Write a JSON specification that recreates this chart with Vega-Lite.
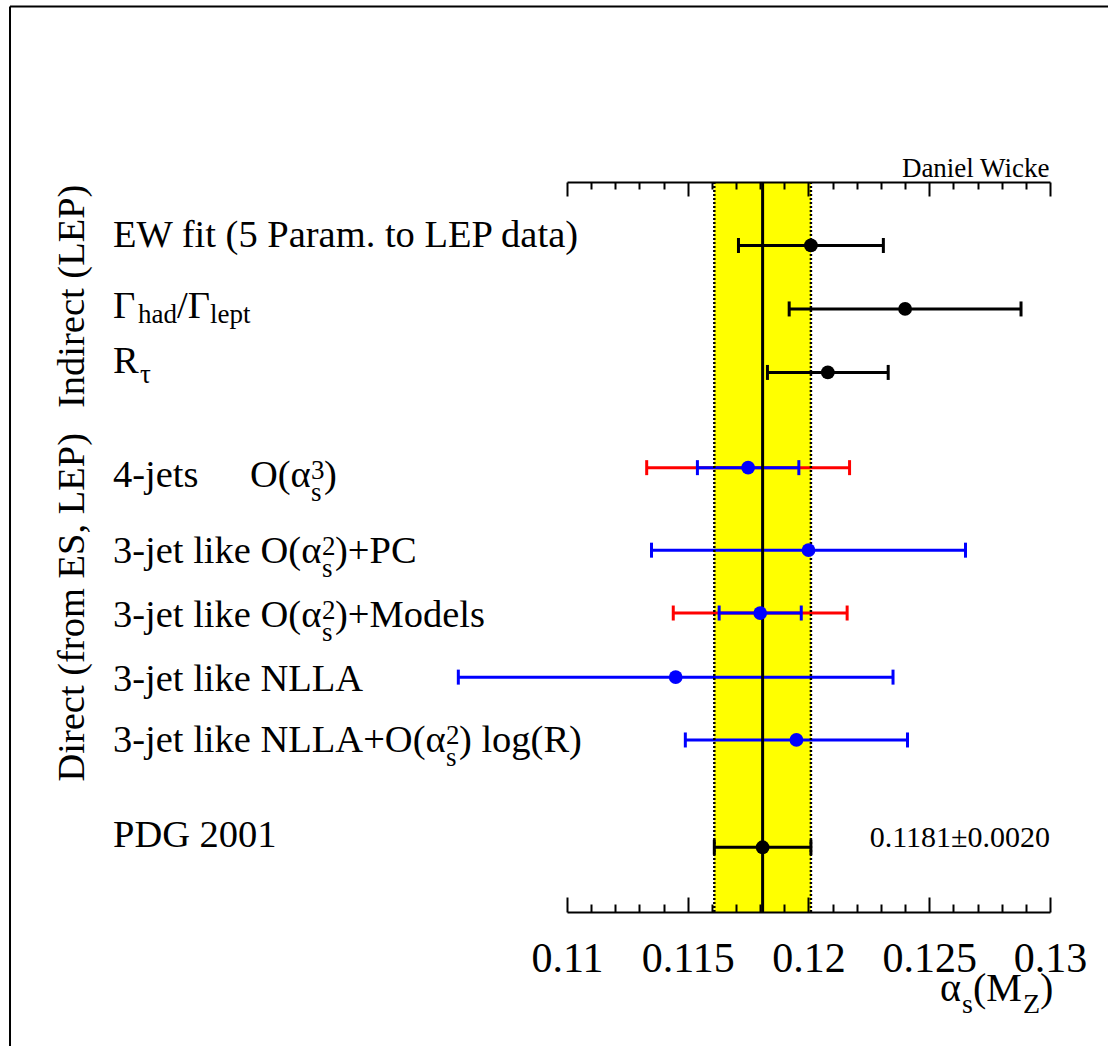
{
  "$schema": "https://vega.github.io/schema/vega-lite/v6.json",
  "width": 483,
  "height": 730,
  "autosize": {"type": "none"},
  "padding": {"left": 567, "top": 182, "right": 58, "bottom": 134},
  "background": "white",
  "config": {"view": {"stroke": null}, "font": "Liberation Serif"},
  "datasets": {
    "meas": [
      {"m": "EW fit (5 Param. to LEP data)", "g": "Indirect", "y": 1.0, "val": 0.1201, "lo": 0.1171, "hi": 0.1231},
      {"m": "Γhad/Γlept", "g": "Indirect", "y": 2.0, "val": 0.1240, "lo": 0.1192, "hi": 0.1288},
      {"m": "Rτ", "g": "Indirect", "y": 3.0, "val": 0.1208, "lo": 0.1183, "hi": 0.1233},
      {"m": "4-jets O(αs3)", "g": "Direct", "y": 4.5, "val": 0.1175, "lo": 0.1154, "hi": 0.1196, "lo2": 0.1133, "hi2": 0.1217},
      {"m": "3-jet like O(αs2)+PC", "g": "Direct", "y": 5.8, "val": 0.1200, "lo": 0.1135, "hi": 0.1265},
      {"m": "3-jet like O(αs2)+Models", "g": "Direct", "y": 6.79, "val": 0.1180, "lo": 0.1163, "hi": 0.1197, "lo2": 0.1144, "hi2": 0.1216},
      {"m": "3-jet like NLLA", "g": "Direct", "y": 7.8, "val": 0.1145, "lo": 0.1055, "hi": 0.1235},
      {"m": "3-jet like NLLA+O(αs2) log(R)", "g": "Direct", "y": 8.79, "val": 0.1195, "lo": 0.1149, "hi": 0.1241},
      {"m": "PDG 2001", "g": "PDG", "y": 10.48, "val": 0.1181, "lo": 0.1161, "hi": 0.1201, "note": "0.1181±0.0020"}
    ],
    "lab": [
      {"t": "EW fit (5 Param. to LEP data)", "ly": 1.02, "p": "a"},
      {"t": "Γ", "ly": 2.14, "p": "a"},
      {"t": "R", "ly": 3.01, "p": "a"},
      {"t": "4-jets", "ly": 4.8, "p": "a"},
      {"t": "3-jet like O(α", "ly": 6.0, "p": "a"},
      {"t": "3-jet like O(α", "ly": 7.01, "p": "a"},
      {"t": "3-jet like NLLA", "ly": 8.02, "p": "a"},
      {"t": "3-jet like NLLA+O(α", "ly": 8.98, "p": "a"},
      {"t": "PDG 2001", "ly": 10.48, "p": "a"},
      {"t": "had", "ly": 2.14, "p": "r2s1"},
      {"t": "/Γ", "ly": 2.14, "p": "r2m"},
      {"t": "lept", "ly": 2.14, "p": "r2s2"},
      {"t": "τ", "ly": 3.01, "p": "r3s"},
      {"t": "O(α", "ly": 4.8, "p": "r4m"},
      {"t": "3", "ly": 4.8, "p": "r4sup"},
      {"t": "s", "ly": 4.8, "p": "r4sub"},
      {"t": ")", "ly": 4.8, "p": "r4e"},
      {"t": "2", "ly": 6.0, "p": "r56sup"},
      {"t": "s", "ly": 6.0, "p": "r56sub"},
      {"t": ")+PC", "ly": 6.0, "p": "r56e"},
      {"t": "2", "ly": 7.01, "p": "r56sup"},
      {"t": "s", "ly": 7.01, "p": "r56sub"},
      {"t": ")+Models", "ly": 7.01, "p": "r56e"},
      {"t": "2", "ly": 8.98, "p": "r8sup"},
      {"t": "s", "ly": 8.98, "p": "r8sub"},
      {"t": ") log(R)", "ly": 8.98, "p": "r8e"}
    ],
    "grp": [
      {"t": "Indirect (LEP)", "gy": 1.8},
      {"t": "Direct (from ES, LEP)", "gy": 6.7}
    ],
    "ttl": [
      {"t": "α", "p": "m1"},
      {"t": "s", "p": "s1"},
      {"t": "(M", "p": "m2"},
      {"t": "Z", "p": "s2"},
      {"t": ")", "p": "m3"}
    ],
    "one": [{"k": 1}]
  },
  "resolve": {"axis": {"x": "independent"}},
  "layer": [
    {
      "data": {"name": "meas"},
      "transform": [{"filter": "datum.g == 'PDG'"}],
      "mark": {"type": "rect", "color": "#ffff00"},
      "encoding": {
        "x": {"field": "lo", "type": "quantitative",
          "scale": {"domain": [0.11, 0.13], "nice": false, "zero": false},
          "axis": {"orient": "bottom", "values": [0.11, 0.115, 0.12, 0.125, 0.13], "format": "~g",
            "tickSize": -15, "tickWidth": 2, "tickColor": "black", "domainWidth": 2, "domainColor": "black",
            "grid": false, "labelFont": "Liberation Serif", "labelFontSize": 42, "labelColor": "black",
            "labelPadding": 74, "labelBaseline": "alphabetic", "labelFlush": false, "labelOverlap": false,
            "title": null, "zindex": 1}},
        "x2": {"field": "hi"}
      }
    },
    {
      "data": {"name": "meas"},
      "transform": [{"filter": "isValid(datum.lo2)"}],
      "mark": {"type": "rule", "color": "#ff0000", "strokeWidth": 3},
      "encoding": {
        "x": {"field": "lo2", "type": "quantitative", "axis": null},
        "x2": {"field": "hi2"},
        "y": {"field": "y", "type": "quantitative", "scale": {"domain": [0, 11.5], "reverse": true, "nice": false, "zero": false}, "axis": null}
      }
    },
    {
      "data": {"name": "meas"},
      "transform": [{"filter": "isValid(datum.lo2)"}, {"fold": ["lo2", "hi2"], "as": ["e", "xv"]}],
      "mark": {"type": "tick", "orient": "vertical", "color": "#ff0000", "thickness": 3, "size": 15, "opacity": 1},
      "encoding": {
        "x": {"field": "xv", "type": "quantitative", "axis": null},
        "y": {"field": "y", "type": "quantitative", "axis": null}
      }
    },
    {
      "data": {"name": "meas"},
      "mark": {"type": "rule", "strokeWidth": 3},
      "encoding": {
        "x": {"field": "lo", "type": "quantitative", "axis": null},
        "x2": {"field": "hi"},
        "y": {"field": "y", "type": "quantitative", "axis": null},
        "color": {"field": "g", "type": "nominal", "scale": {"domain": ["Indirect", "Direct", "PDG"], "range": ["#000000", "#0000ff", "#000000"]}, "legend": null}
      }
    },
    {
      "data": {"name": "meas"},
      "transform": [{"fold": ["lo", "hi"], "as": ["e", "xv"]}],
      "mark": {"type": "tick", "orient": "vertical", "thickness": 3, "size": 15, "opacity": 1},
      "encoding": {
        "x": {"field": "xv", "type": "quantitative", "axis": null},
        "y": {"field": "y", "type": "quantitative", "axis": null},
        "color": {"field": "g", "type": "nominal", "legend": null}
      }
    },
    {
      "data": {"name": "meas"},
      "transform": [{"filter": "datum.g == 'PDG'"}],
      "mark": {"type": "rule", "color": "black", "strokeWidth": 2.5, "strokeDash": [2, 2]},
      "encoding": {
        "x": {"field": "lo", "type": "quantitative",
          "axis": {"orient": "bottom", "values": [0.111, 0.112, 0.113, 0.114, 0.116, 0.117, 0.118, 0.119, 0.121, 0.122, 0.123, 0.124, 0.126, 0.127, 0.128, 0.129],
            "tickSize": -8, "tickWidth": 2, "tickColor": "black", "domain": false, "labels": false, "grid": false, "title": null, "zindex": 1}}
      }
    },
    {
      "data": {"name": "meas"},
      "transform": [{"filter": "datum.g == 'PDG'"}],
      "mark": {"type": "rule", "color": "black", "strokeWidth": 2.5, "strokeDash": [2, 2]},
      "encoding": {
        "x": {"field": "hi", "type": "quantitative",
          "axis": {"orient": "top", "values": [0.11, 0.115, 0.12, 0.125, 0.13],
            "tickSize": -14, "tickWidth": 2, "tickColor": "black", "domainWidth": 2, "domainColor": "black",
            "labels": false, "grid": false, "zindex": 1,
            "title": "Daniel Wicke", "titleX": 482, "titleY": -6, "titleAlign": "right", "titleBaseline": "alphabetic",
            "titleFont": "Liberation Serif", "titleFontSize": 27, "titleFontWeight": "normal", "titleColor": "black", "titleAngle": 0}}
      }
    },
    {
      "data": {"name": "meas"},
      "transform": [{"filter": "datum.g == 'PDG'"}],
      "mark": {"type": "rule", "color": "black", "strokeWidth": 3},
      "encoding": {
        "x": {"field": "val", "type": "quantitative",
          "axis": {"orient": "top", "values": [0.111, 0.112, 0.113, 0.114, 0.116, 0.117, 0.118, 0.119, 0.121, 0.122, 0.123, 0.124, 0.126, 0.127, 0.128, 0.129],
            "tickSize": -7, "tickWidth": 2, "tickColor": "black", "domain": false, "labels": false, "grid": false, "title": null, "zindex": 1}}
      }
    },
    {
      "data": {"name": "meas"},
      "mark": {"type": "circle", "size": 190, "opacity": 1},
      "encoding": {
        "x": {"field": "val", "type": "quantitative", "axis": null},
        "y": {"field": "y", "type": "quantitative", "axis": null},
        "color": {"field": "g", "type": "nominal", "legend": null}
      }
    },
    {
      "data": {"name": "meas"},
      "transform": [{"filter": "datum.g == 'PDG'"}],
      "mark": {"type": "text", "align": "right", "baseline": "alphabetic", "fontSize": 30, "color": "black"},
      "encoding": {
        "x": {"datum": 0.13, "axis": null},
        "y": {"field": "y", "type": "quantitative", "axis": null},
        "text": {"field": "note"}
      }
    },
    {
      "data": {"name": "lab"},
      "transform": [{"filter": "datum.p == 'a'"}],
      "mark": {"type": "text", "align": "left", "baseline": "alphabetic", "fontSize": 38.5, "color": "black"},
      "encoding": {"x": {"datum": 0.0912, "axis": null}, "y": {"field": "ly", "type": "quantitative", "axis": null}, "text": {"field": "t"}}
    },
    {
      "data": {"name": "lab"},
      "transform": [{"filter": "datum.p == 'r2s1'"}],
      "mark": {"type": "text", "align": "left", "baseline": "alphabetic", "fontSize": 27, "dx": 25, "dy": 5, "color": "black"},
      "encoding": {"x": {"datum": 0.0912, "axis": null}, "y": {"field": "ly", "type": "quantitative", "axis": null}, "text": {"field": "t"}}
    },
    {
      "data": {"name": "lab"},
      "transform": [{"filter": "datum.p == 'r2m'"}],
      "mark": {"type": "text", "align": "left", "baseline": "alphabetic", "fontSize": 38.5, "dx": 64, "color": "black"},
      "encoding": {"x": {"datum": 0.0912, "axis": null}, "y": {"field": "ly", "type": "quantitative", "axis": null}, "text": {"field": "t"}}
    },
    {
      "data": {"name": "lab"},
      "transform": [{"filter": "datum.p == 'r2s2'"}],
      "mark": {"type": "text", "align": "left", "baseline": "alphabetic", "fontSize": 27, "dx": 97, "dy": 5, "color": "black"},
      "encoding": {"x": {"datum": 0.0912, "axis": null}, "y": {"field": "ly", "type": "quantitative", "axis": null}, "text": {"field": "t"}}
    },
    {
      "data": {"name": "lab"},
      "transform": [{"filter": "datum.p == 'r3s'"}],
      "mark": {"type": "text", "align": "left", "baseline": "alphabetic", "fontSize": 27, "dx": 27, "dy": 10, "color": "black"},
      "encoding": {"x": {"datum": 0.0912, "axis": null}, "y": {"field": "ly", "type": "quantitative", "axis": null}, "text": {"field": "t"}}
    },
    {
      "data": {"name": "lab"},
      "transform": [{"filter": "datum.p == 'r4m'"}],
      "mark": {"type": "text", "align": "left", "baseline": "alphabetic", "fontSize": 38.5, "dx": 137, "color": "black"},
      "encoding": {"x": {"datum": 0.0912, "axis": null}, "y": {"field": "ly", "type": "quantitative", "axis": null}, "text": {"field": "t"}}
    },
    {
      "data": {"name": "lab"},
      "transform": [{"filter": "datum.p == 'r4sup'"}],
      "mark": {"type": "text", "align": "left", "baseline": "alphabetic", "fontSize": 27, "dx": 198, "dy": -8, "color": "black"},
      "encoding": {"x": {"datum": 0.0912, "axis": null}, "y": {"field": "ly", "type": "quantitative", "axis": null}, "text": {"field": "t"}}
    },
    {
      "data": {"name": "lab"},
      "transform": [{"filter": "datum.p == 'r4sub'"}],
      "mark": {"type": "text", "align": "left", "baseline": "alphabetic", "fontSize": 27, "dx": 198, "dy": 14, "color": "black"},
      "encoding": {"x": {"datum": 0.0912, "axis": null}, "y": {"field": "ly", "type": "quantitative", "axis": null}, "text": {"field": "t"}}
    },
    {
      "data": {"name": "lab"},
      "transform": [{"filter": "datum.p == 'r4e'"}],
      "mark": {"type": "text", "align": "left", "baseline": "alphabetic", "fontSize": 38.5, "dx": 211, "color": "black"},
      "encoding": {"x": {"datum": 0.0912, "axis": null}, "y": {"field": "ly", "type": "quantitative", "axis": null}, "text": {"field": "t"}}
    },
    {
      "data": {"name": "lab"},
      "transform": [{"filter": "datum.p == 'r56sup'"}],
      "mark": {"type": "text", "align": "left", "baseline": "alphabetic", "fontSize": 27, "dx": 209, "dy": -8, "color": "black"},
      "encoding": {"x": {"datum": 0.0912, "axis": null}, "y": {"field": "ly", "type": "quantitative", "axis": null}, "text": {"field": "t"}}
    },
    {
      "data": {"name": "lab"},
      "transform": [{"filter": "datum.p == 'r56sub'"}],
      "mark": {"type": "text", "align": "left", "baseline": "alphabetic", "fontSize": 27, "dx": 209, "dy": 14, "color": "black"},
      "encoding": {"x": {"datum": 0.0912, "axis": null}, "y": {"field": "ly", "type": "quantitative", "axis": null}, "text": {"field": "t"}}
    },
    {
      "data": {"name": "lab"},
      "transform": [{"filter": "datum.p == 'r56e'"}],
      "mark": {"type": "text", "align": "left", "baseline": "alphabetic", "fontSize": 38.5, "dx": 222, "color": "black"},
      "encoding": {"x": {"datum": 0.0912, "axis": null}, "y": {"field": "ly", "type": "quantitative", "axis": null}, "text": {"field": "t"}}
    },
    {
      "data": {"name": "lab"},
      "transform": [{"filter": "datum.p == 'r8sup'"}],
      "mark": {"type": "text", "align": "left", "baseline": "alphabetic", "fontSize": 27, "dx": 333, "dy": -8, "color": "black"},
      "encoding": {"x": {"datum": 0.0912, "axis": null}, "y": {"field": "ly", "type": "quantitative", "axis": null}, "text": {"field": "t"}}
    },
    {
      "data": {"name": "lab"},
      "transform": [{"filter": "datum.p == 'r8sub'"}],
      "mark": {"type": "text", "align": "left", "baseline": "alphabetic", "fontSize": 27, "dx": 333, "dy": 14, "color": "black"},
      "encoding": {"x": {"datum": 0.0912, "axis": null}, "y": {"field": "ly", "type": "quantitative", "axis": null}, "text": {"field": "t"}}
    },
    {
      "data": {"name": "lab"},
      "transform": [{"filter": "datum.p == 'r8e'"}],
      "mark": {"type": "text", "align": "left", "baseline": "alphabetic", "fontSize": 38.5, "dx": 346, "color": "black"},
      "encoding": {"x": {"datum": 0.0912, "axis": null}, "y": {"field": "ly", "type": "quantitative", "axis": null}, "text": {"field": "t"}}
    },
    {
      "data": {"name": "grp"},
      "mark": {"type": "text", "align": "center", "baseline": "alphabetic", "angle": 270, "fontSize": 38.5, "color": "black"},
      "encoding": {"x": {"datum": 0.09, "axis": null}, "y": {"field": "gy", "type": "quantitative", "axis": null}, "text": {"field": "t"}}
    },
    {
      "data": {"name": "ttl"},
      "transform": [{"filter": "datum.p == 'm1'"}],
      "mark": {"type": "text", "align": "left", "baseline": "alphabetic", "fontSize": 40, "dx": -110, "color": "black"},
      "encoding": {"x": {"datum": 0.13, "axis": null}, "y": {"datum": 12.9, "axis": null}, "text": {"field": "t"}}
    },
    {
      "data": {"name": "ttl"},
      "transform": [{"filter": "datum.p == 's1'"}],
      "mark": {"type": "text", "align": "left", "baseline": "alphabetic", "fontSize": 28, "dx": -88, "dy": 12, "color": "black"},
      "encoding": {"x": {"datum": 0.13, "axis": null}, "y": {"datum": 12.9, "axis": null}, "text": {"field": "t"}}
    },
    {
      "data": {"name": "ttl"},
      "transform": [{"filter": "datum.p == 'm2'"}],
      "mark": {"type": "text", "align": "left", "baseline": "alphabetic", "fontSize": 40, "dx": -77, "color": "black"},
      "encoding": {"x": {"datum": 0.13, "axis": null}, "y": {"datum": 12.9, "axis": null}, "text": {"field": "t"}}
    },
    {
      "data": {"name": "ttl"},
      "transform": [{"filter": "datum.p == 's2'"}],
      "mark": {"type": "text", "align": "left", "baseline": "alphabetic", "fontSize": 28, "dx": -27, "dy": 12, "color": "black"},
      "encoding": {"x": {"datum": 0.13, "axis": null}, "y": {"datum": 12.9, "axis": null}, "text": {"field": "t"}}
    },
    {
      "data": {"name": "ttl"},
      "transform": [{"filter": "datum.p == 'm3'"}],
      "mark": {"type": "text", "align": "left", "baseline": "alphabetic", "fontSize": 40, "dx": -10, "color": "black"},
      "encoding": {"x": {"datum": 0.13, "axis": null}, "y": {"datum": 12.9, "axis": null}, "text": {"field": "t"}}
    },
    {
      "data": {"name": "one"},
      "mark": {"type": "rule", "color": "black", "strokeWidth": 2},
      "encoding": {"x": {"datum": 0.086936, "axis": null}, "y": {"datum": -2.765, "axis": null}, "y2": {"datum": 14}}
    },
    {
      "data": {"name": "one"},
      "mark": {"type": "rule", "color": "black", "strokeWidth": 2},
      "encoding": {"x": {"datum": 0.086936, "axis": null}, "x2": {"datum": 0.134}, "y": {"datum": -2.765, "axis": null}}
    }
  ]
}
